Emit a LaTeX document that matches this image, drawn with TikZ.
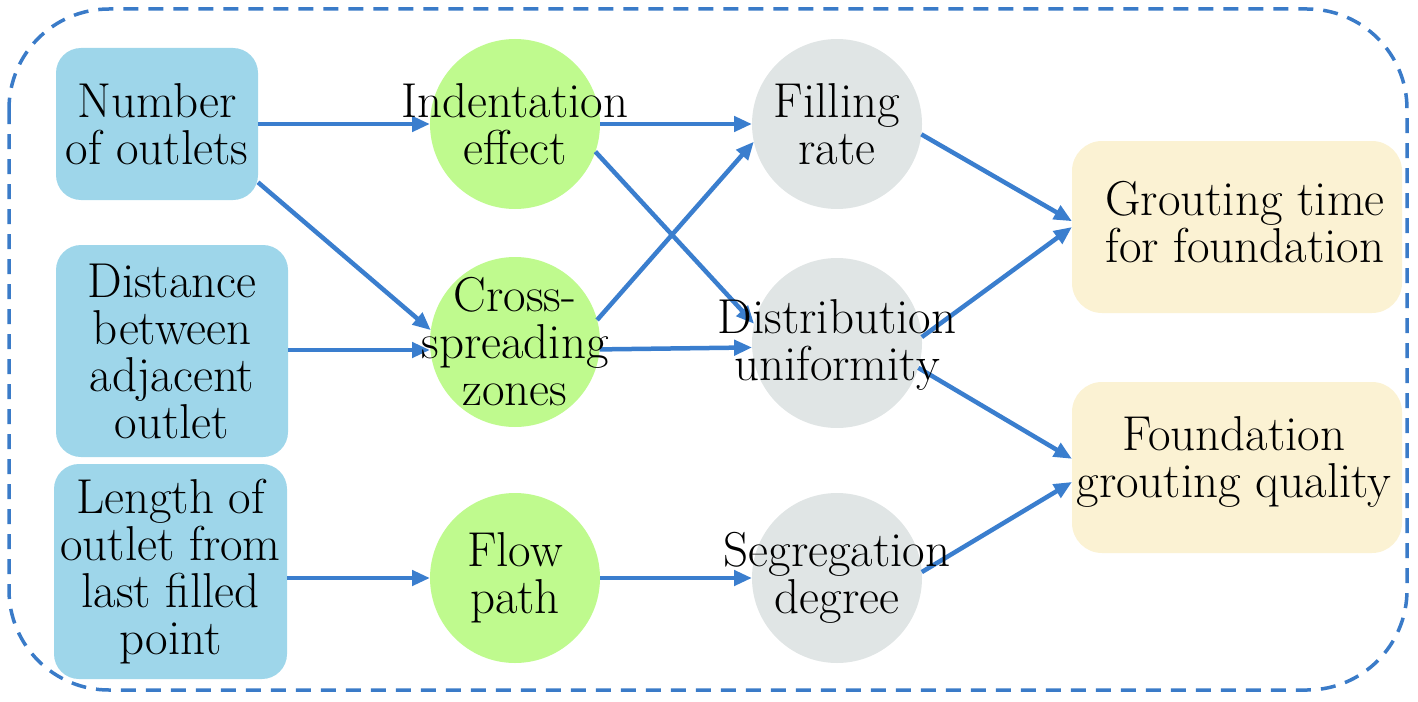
\documentclass[tikz,border=0pt]{standalone}
\usetikzlibrary{arrows.meta,calc}
\definecolor{boxblue}{RGB}{158,214,234}
\definecolor{circgreen}{RGB}{191,250,142}
\definecolor{circgrey}{RGB}{224,229,229}
\definecolor{boxyellow}{RGB}{251,242,211}
\definecolor{arrowblue}{RGB}{58,126,206}
\definecolor{frameblue}{RGB}{58,123,200}
\begin{document}
\begin{tikzpicture}[x=1pt,y=-1pt,
  every node/.style={inner sep=0pt, outer sep=0pt},
  txt/.style={font=\fontsize{49}{47}\selectfont, align=center},
  bluebox/.style={fill=boxblue, rounded corners=25pt},
  yelbox/.style={fill=boxyellow, rounded corners=30pt, minimum width=330pt},
  greencirc/.style={circle, fill=circgreen, minimum size=170pt},
  greycirc/.style={circle, fill=circgrey, minimum size=170pt},
  conn/.style={draw=arrowblue, line width=4.5pt, -{Triangle[length=18pt,width=15pt]}}]
\useasboundingbox (0,0) rectangle (1418,701);
\draw[frameblue, line width=3.5pt, dash pattern=on 15pt off 10pt, rounded corners=100pt] (9,9) rectangle (1407,690);

% left boxes
\node[bluebox, minimum width=202pt, minimum height=152pt] (b1) at (157,124) {};
\node[bluebox, minimum width=232pt, minimum height=212pt] (b2) at (172,351) {};
\node[bluebox, minimum width=233pt, minimum height=215pt] (b3) at (170.5,571.5) {};

% circles
\node[greencirc] (ind) at (515,124) {};
\node[greencirc] (cross) at (515,342) {};
\node[greencirc] (flow) at (515,578) {};
\node[greycirc] (fill) at (837,124) {};
\node[greycirc] (dist) at (837,343) {};
\node[greycirc] (seg) at (837,578) {};

% right boxes
\node[yelbox, minimum height=172pt] (gt) at (1237,227) {};
\node[yelbox, minimum height=171pt] (fq) at (1237,467.5) {};

% connectors
\draw[conn] (b1.east) -- (ind.west);
\draw[conn] (b1.-30) -- (cross.172);
\draw[conn] (cross.west -| b2.east) ++(0,8) -- ($(cross.west)+(0,8)$);
\draw[conn] (flow.west -| b3.east) -- (flow.west);
\draw[conn] (ind.east) -- (fill.west);
\draw[conn] (ind.-19) -- (dist.167);
\draw[conn] (cross.15) -- (fill.-168);
\draw[conn] (cross.-5) -- (dist.183);
\draw[conn] (flow.east) -- (seg.west);
\draw[conn] (fill.-7) -- (gt.178);
\draw[conn] (dist.4) -- (gt.180);
\draw[conn] (dist.-17) -- (fq.177);
\draw[conn] (seg.4) -- (fq.185);

% texts
\node[txt] (tb1) at (b1) {Number\\of outlets};
\node[txt] (tb2) at (b2) {Distance\\between\\adjacent\\outlet};
\node[txt] (tb3) at (b3) {Length of\\outlet from\\last filled\\point};
\node[txt] (tind) at (ind) {Indentation\\effect};
\node[txt] (tcross) at (cross) {Cross-\\spreading\\zones};
\node[txt] (tflow) at (flow) {Flow\\path};
\node[txt] (tfill) at (fill) {Filling\\rate};
\node[txt] (tdist) at ($(dist)+(0,2)$) {Distribution\\uniformity};
\node[txt] (tseg) at (seg) {Segregation\\degree};
\node[txt] (tgt) at ($(gt)+(8,-5)$) {Grouting time\\for foundation};
\node[txt] (tfq) at ($(fq)+(-3,-6)$) {Foundation\\grouting quality};
\end{tikzpicture}
\end{document}
